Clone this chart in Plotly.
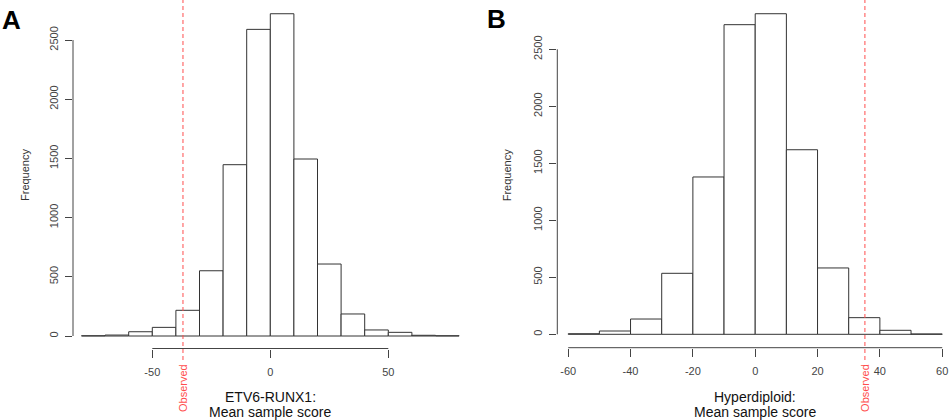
import plotly.graph_objects as go

W, H = 950, 420

# ---- data ----
a_breaks = list(range(-80, 81, 10))
a_counts = [2, 8, 36, 73, 217, 551, 1447, 2590, 2722, 1495, 608, 186, 51, 31, 6, 2]
a_observed = -37
a_xticks = [-50, 0, 50]
a_label = ["ETV6-RUNX1:", "Mean sample score"]

b_breaks = list(range(-60, 61, 10))
b_counts = [5, 29, 134, 535, 1380, 2716, 2812, 1619, 582, 146, 35, 3]
b_observed = 35.2
b_xticks = [-60, -40, -20, 0, 20, 40, 60]
b_label = ["Hyperdiploid:", "Mean sample score"]

y_ticks = [0, 500, 1000, 1500, 2000, 2500]

FONT = "Liberation Sans, Arial, Helvetica, sans-serif"
AX_COL = "#444444"
RED = "#ff4d4d"


def py(p):
    """pixel row -> paper y"""
    return 1 - p / H


def centers(br):
    return [(br[i] + br[i + 1]) / 2 for i in range(len(br) - 1)]


fig = go.Figure()
fig.add_trace(go.Bar(x=centers(a_breaks), y=a_counts, width=10,
                     marker=dict(color="white", line=dict(color="#333333", width=1)),
                     xaxis="x", yaxis="y", showlegend=False, hoverinfo="skip"))
fig.add_trace(go.Bar(x=centers(b_breaks), y=b_counts, width=10,
                     marker=dict(color="white", line=dict(color="#333333", width=1)),
                     xaxis="x2", yaxis="y2", showlegend=False, hoverinfo="skip"))

xcommon = dict(showgrid=False, zeroline=False, showline=False, ticks="outside",
               ticklen=8, tickwidth=1, tickcolor=AX_COL,
               tickfont=dict(family=FONT, size=11, color=AX_COL), ticklabelstandoff=5)
ycommon = dict(showgrid=False, zeroline=False, showline=False, ticks="outside",
               ticklen=7, tickwidth=1, tickcolor=AX_COL, tickvals=y_ticks,
               ticktext=[str(v) for v in y_ticks],
               tickangle=-90, tickfont=dict(family=FONT, size=11, color=AX_COL),
               ticklabelstandoff=3)

fig.update_layout(
    width=W, height=H, margin=dict(l=0, r=0, t=0, b=0),
    template="none", paper_bgcolor="white", plot_bgcolor="white",
    bargap=0,
    xaxis=dict(domain=[73 / W, 467.6 / W], range=[-83.6, 83.6], tickvals=a_xticks,
               ticktext=[str(v) for v in a_xticks], anchor="y", **xcommon),
    yaxis=dict(domain=[py(348.5), py(1)], range=[-105.6, 2829.6], anchor="x", **ycommon),
    xaxis2=dict(domain=[557.3 / W, 1.0], range=[-63.5, 62.5], tickvals=b_xticks,
                ticktext=[str(v) for v in b_xticks], anchor="y2", **xcommon),
    yaxis2=dict(domain=[py(347.7), py(1)], range=[-117.5, 2923.7], anchor="x2", **ycommon),
)

shapes = []
anns = []
for xr, yr, xt, obs, lab in [("x", "y", a_xticks, a_observed, a_label),
                             ("x2", "y2", b_xticks, b_observed, b_label)]:
    # x axis line spanning first to last tick
    shapes.append(dict(type="line", xref=xr, yref=yr + " domain", x0=xt[0], x1=xt[-1],
                       y0=0, y1=0, line=dict(color=AX_COL, width=1)))
    # y axis line spanning first to last tick
    shapes.append(dict(type="line", xref=xr + " domain", yref=yr, x0=0, x1=0,
                       y0=y_ticks[0], y1=y_ticks[-1], line=dict(color=AX_COL, width=1)))
    # observed line
    shapes.append(dict(type="line", xref=xr, yref="paper", x0=obs, x1=obs,
                       y0=py(360), y1=1, line=dict(color=RED, width=1, dash="4px,3px")))
    anns.append(dict(xref=xr, yref="paper", x=obs, y=py(388), text="Observed",
                     textangle=-90, showarrow=False, xanchor="center", yanchor="middle",
                     font=dict(family=FONT, size=11, color=RED)))
    anns.append(dict(xref=xr, yref="paper", x=0, y=py(396.7), text=lab[0],
                     showarrow=False, xanchor="center", yanchor="middle",
                     font=dict(family=FONT, size=14, color="#111111")))
    anns.append(dict(xref=xr, yref="paper", x=0, y=py(412), text=lab[1],
                     showarrow=False, xanchor="center", yanchor="middle",
                     font=dict(family=FONT, size=14, color="#111111")))

for xp in [25, 507.3]:
    anns.append(dict(xref="paper", yref="paper", x=xp / W, y=py(175), text="Frequency",
                     textangle=-90, showarrow=False, xanchor="center", yanchor="middle",
                     font=dict(family=FONT, size=11, color="#333333")))

anns.append(dict(xref="paper", yref="paper", x=0 / W, y=py(19.5), text="<b>A</b>",
                 showarrow=False, xanchor="left", yanchor="middle",
                 font=dict(family=FONT, size=26, color="black")))
anns.append(dict(xref="paper", yref="paper", x=485 / W, y=py(19), text="<b>B</b>",
                 showarrow=False, xanchor="left", yanchor="middle",
                 font=dict(family=FONT, size=26, color="black")))

fig.update_layout(shapes=shapes, annotations=anns)
fig.write_html("out.html", config={"displayModeBar": False, "staticPlot": True},
               post_script="document.body.style.margin='0';document.body.style.overflow='hidden';")
